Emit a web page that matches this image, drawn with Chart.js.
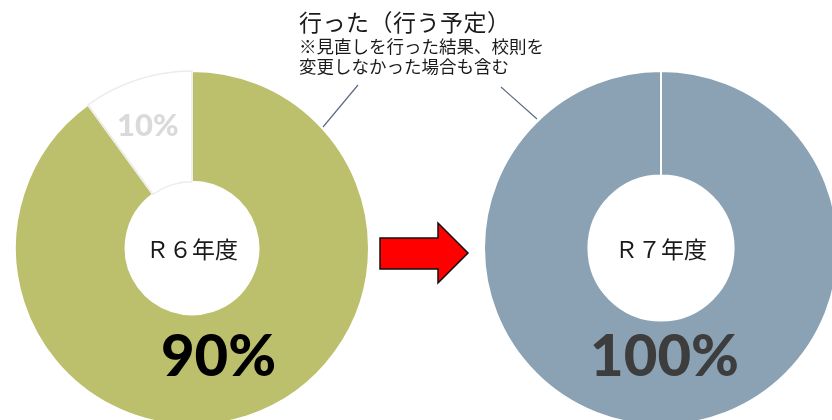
<!DOCTYPE html>
<html lang="ja">
<head>
<meta charset="utf-8">
<script src="https://cdn.jsdelivr.net/npm/chart.js@4"></script>
<style>
  html, body { margin: 0; padding: 0; background: #fff; }
  body { width: 832px; height: 420px; overflow: hidden; position: relative; }
  .wrap { position: absolute; width: 356px; height: 356px; }
  #left { left: 14px; top: 70px; }
  #right { left: 483px; top: 70px; }
  .note { position: absolute; left: 299px; top: 6px; color: #1a1a1a;
          font-family: "Noto Sans CJK JP", sans-serif; white-space: nowrap; }
  .note .t1 { font-size: 23px; line-height: 30px; letter-spacing: 0.5px; }
  .note .t2 { font-size: 17.5px; line-height: 20px; }
  svg { position: absolute; left: 0; top: 0; }
</style>
</head>
<body>

<div class="wrap" id="left"><canvas id="c6"></canvas></div>
<div class="wrap" id="right"><canvas id="c7"></canvas></div>

<div class="note">
  <div class="t1">行った（行う予定）</div>
  <div class="t2">※見直しを行った結果、校則を</div>
  <div class="t2">変更しなかった場合も含む</div>
</div>

<svg width="832" height="420">
  <line x1="358" y1="85" x2="323" y2="127" stroke="#5d6a80" stroke-width="1.2"/>
  <line x1="501" y1="87" x2="537" y2="119" stroke="#5d6a80" stroke-width="1.2"/>
  <polygon points="380,238 438,238 438,223 468,253 438,283 438,269 380,269"
           fill="#ff0000" stroke="#111" stroke-width="1.5" stroke-linejoin="miter"/>
</svg>

<script>
const categories = ['行った（行う予定）', '行っていない'];
const r6Values = [90, 10];
const r7Values = [100, 0];
const yearLabels = ['Ｒ６年度', 'Ｒ７年度'];

// text in the hole and on the ring, placed from the arc geometry
const ringText = {
  id: 'ringText',
  afterDatasetsDraw(chart, args, opts) {
    const arc = chart.getDatasetMeta(0).data[0];
    const { x, y, outerRadius: R } = arc;
    const c = chart.ctx;
    c.save();
    c.textAlign = 'center';
    c.textBaseline = 'middle';
    c.fillStyle = '#1a1a1a';
    c.font = '23px "Noto Sans CJK JP"';
    c.fillText(opts.year, x, y + 1);
    c.fillStyle = opts.bigColor;
    c.font = '900 58px Lato';
    c.fillText(opts.big, x + opts.bigDx * R, y + 0.62 * R);
    if (opts.small) {
      c.fillStyle = '#dadada';
      c.font = '900 31px Lato';
      c.fillText(opts.small, x - 0.25 * R, y - 0.69 * R);
    }
    c.restore();
  }
};

function makeChart(id, values, colors, borders, widths, cutout, text) {
  return new Chart(document.getElementById(id), {
    type: 'doughnut',
    data: {
      labels: categories,
      datasets: [{
        data: values,
        backgroundColor: colors,
        borderColor: borders,
        borderWidth: widths
      }]
    },
    options: {
      responsive: true,
      maintainAspectRatio: false,
      animation: false,
      cutout: cutout,
      layout: { padding: 0 },
      plugins: {
        legend: { display: false },
        tooltip: { enabled: false },
        ringText: text
      }
    },
    plugins: [ringText]
  });
}

makeChart('c6', r6Values, ['#bcc06c', '#ffffff'], ['#ffffff', '#ececec'], [2, 1.5], '37.5%',
  { year: yearLabels[0], big: r6Values[0] + '%', bigColor: '#000000', bigDx: 0.15, small: r6Values[1] + '%' });
makeChart('c7', r7Values, ['#8ba2b4', '#ffffff'], ['#ffffff', '#ffffff'], [2, 2], '41%',
  { year: yearLabels[1], big: r7Values[0] + '%', bigColor: '#3d3d3d', bigDx: 0.02 });
</script>
</body>
</html>
